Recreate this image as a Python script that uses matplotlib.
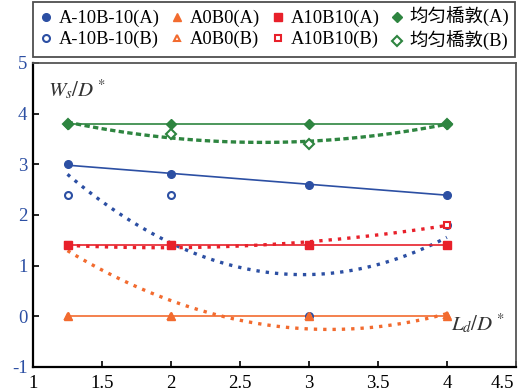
import matplotlib
matplotlib.use("Agg")
import matplotlib.pyplot as plt
import numpy as np
from matplotlib.font_manager import FontProperties
import matplotlib.transforms as mtransforms

plt.rcParams['font.family'] = ['Liberation Serif', 'Noto Sans CJK SC']
plt.rcParams['mathtext.fontset'] = 'stix'
plt.rcParams['axes.unicode_minus'] = False

# measured points
x = [1.25, 2, 3, 4]
blue_a = [3.0, 2.8, 2.6, 2.4]
blue_b = [2.4, 2.4, 0.0, 1.8]
orange_a = [0.0, 0.0, 0.0, 0.0]
orange_b = [0.0, 0.0, 0.0, 0.03]
red_a = [1.4, 1.4, 1.4, 1.4]
red_b = [1.4, 1.4, 1.4, 1.8]
green_a = [3.8, 3.8, 3.8, 3.8]
green_b = [3.8, 3.6, 3.4, 3.8]

# trend lines of the (B) series
trend_x = [1.25, 2, 3, 4]
blue_trend = [2.8, 1.45, 0.82, 1.56]
orange_trend = [1.3, 0.3, -0.24, 0.05]
red_trend = [1.39, 1.38, 1.45, 1.8]
green_trend = [3.82, 3.55, 3.43, 3.8]

labels = ['A-10B-10', 'A0B0', 'A10B10', '均匀橋敦']
colors = ['#2c4fa3', '#f26b2f', '#e8202a', '#2e8540']
markers = ['o', '^', 's', 'D']
msizes = [5.5, 5.5, 5.5, 5.5]

fig = plt.figure(figsize=(5.2, 3.91), dpi=100)
ax = fig.add_axes([0.0635, 0.0614, 0.9285, 0.7776])

xs = np.linspace(1.25, 4, 100)
a_series = [blue_a, orange_a, red_a, green_a]
b_series = [blue_b, orange_b, red_b, green_b]
trends = [blue_trend, orange_trend, red_trend, green_trend]
dashes = [(1.0, 1.8), (1.0, 1.8), (1.0, 1.8), (1.6, 1.0)]

handles = []
for i in range(4):
    c = colors[i]
    # solid linear fit of (A)
    p = np.polyfit(x, a_series[i], 1)
    ax.plot(xs, np.polyval(p, xs), color=c, lw=1.2, zorder=2)
    # dotted quadratic trend of (B)
    q = np.polyfit(trend_x, trends[i], 2)
    ax.plot(xs, np.polyval(q, xs), color=c, lw=2.4, linestyle=(0, dashes[i]), zorder=2)
    hb, = ax.plot(x, b_series[i], linestyle='none', marker=markers[i], ms=msizes[i] - 0.5,
                  mfc='white', mec=c, mew=1.5, zorder=3, label=labels[i] + '(B)')
    ha, = ax.plot(x, a_series[i], linestyle='none', marker=markers[i], ms=msizes[i],
                  color=c, zorder=4, label=labels[i] + '(A)')
    handles += [ha, hb]

ax.set_xlim(1, 4.5)
ax.set_ylim(-1, 5)
ax.set_xticks([1, 1.5, 2, 2.5, 3, 3.5, 4, 4.5])
ax.set_xticklabels(['1', '1.5', '2', '2.5', '3', '3.5', '4', '4.5'])
ax.set_yticks(range(-1, 6))
ax.tick_params(direction='in', length=4, width=1.2, labelsize=13.5, pad=6)
ax.tick_params(axis='y', labelcolor='#2c4fa3', pad=4)
last = ax.get_xticklabels()[-1]
last.set_transform(last.get_transform() + mtransforms.ScaledTranslation(-13 / 100, 0, fig.dpi_scale_trans))
for s in ['left', 'bottom']:
    ax.spines[s].set_linewidth(1.6)
    ax.spines[s].set_color('black')
for s in ['top', 'right']:
    ax.spines[s].set_linewidth(1.3)
    ax.spines[s].set_color('#555555')

ax.text(1.11, 4.33, '$W_s/D^*$', fontsize=15, color='#333333')
ax.text(4.03, -0.3, '$L_d/D^*$', fontsize=15, color='#333333')

prop = FontProperties(family=['Liberation Serif', 'Noto Sans CJK SC'], size=13.3)
leg = fig.legend(handles=handles, ncol=4, loc='lower left',
                 bbox_to_anchor=(0.0635, 0.855, 0.927, 0.128), mode='expand',
                 prop=prop, frameon=True, fancybox=False, edgecolor='#222222',
                 handlelength=0.8, handletextpad=0.3, columnspacing=0.5,
                 borderpad=0.3, labelspacing=0.2, borderaxespad=0)
leg.get_frame().set_linewidth(1.3)

fig.savefig('out.png', dpi=100)
